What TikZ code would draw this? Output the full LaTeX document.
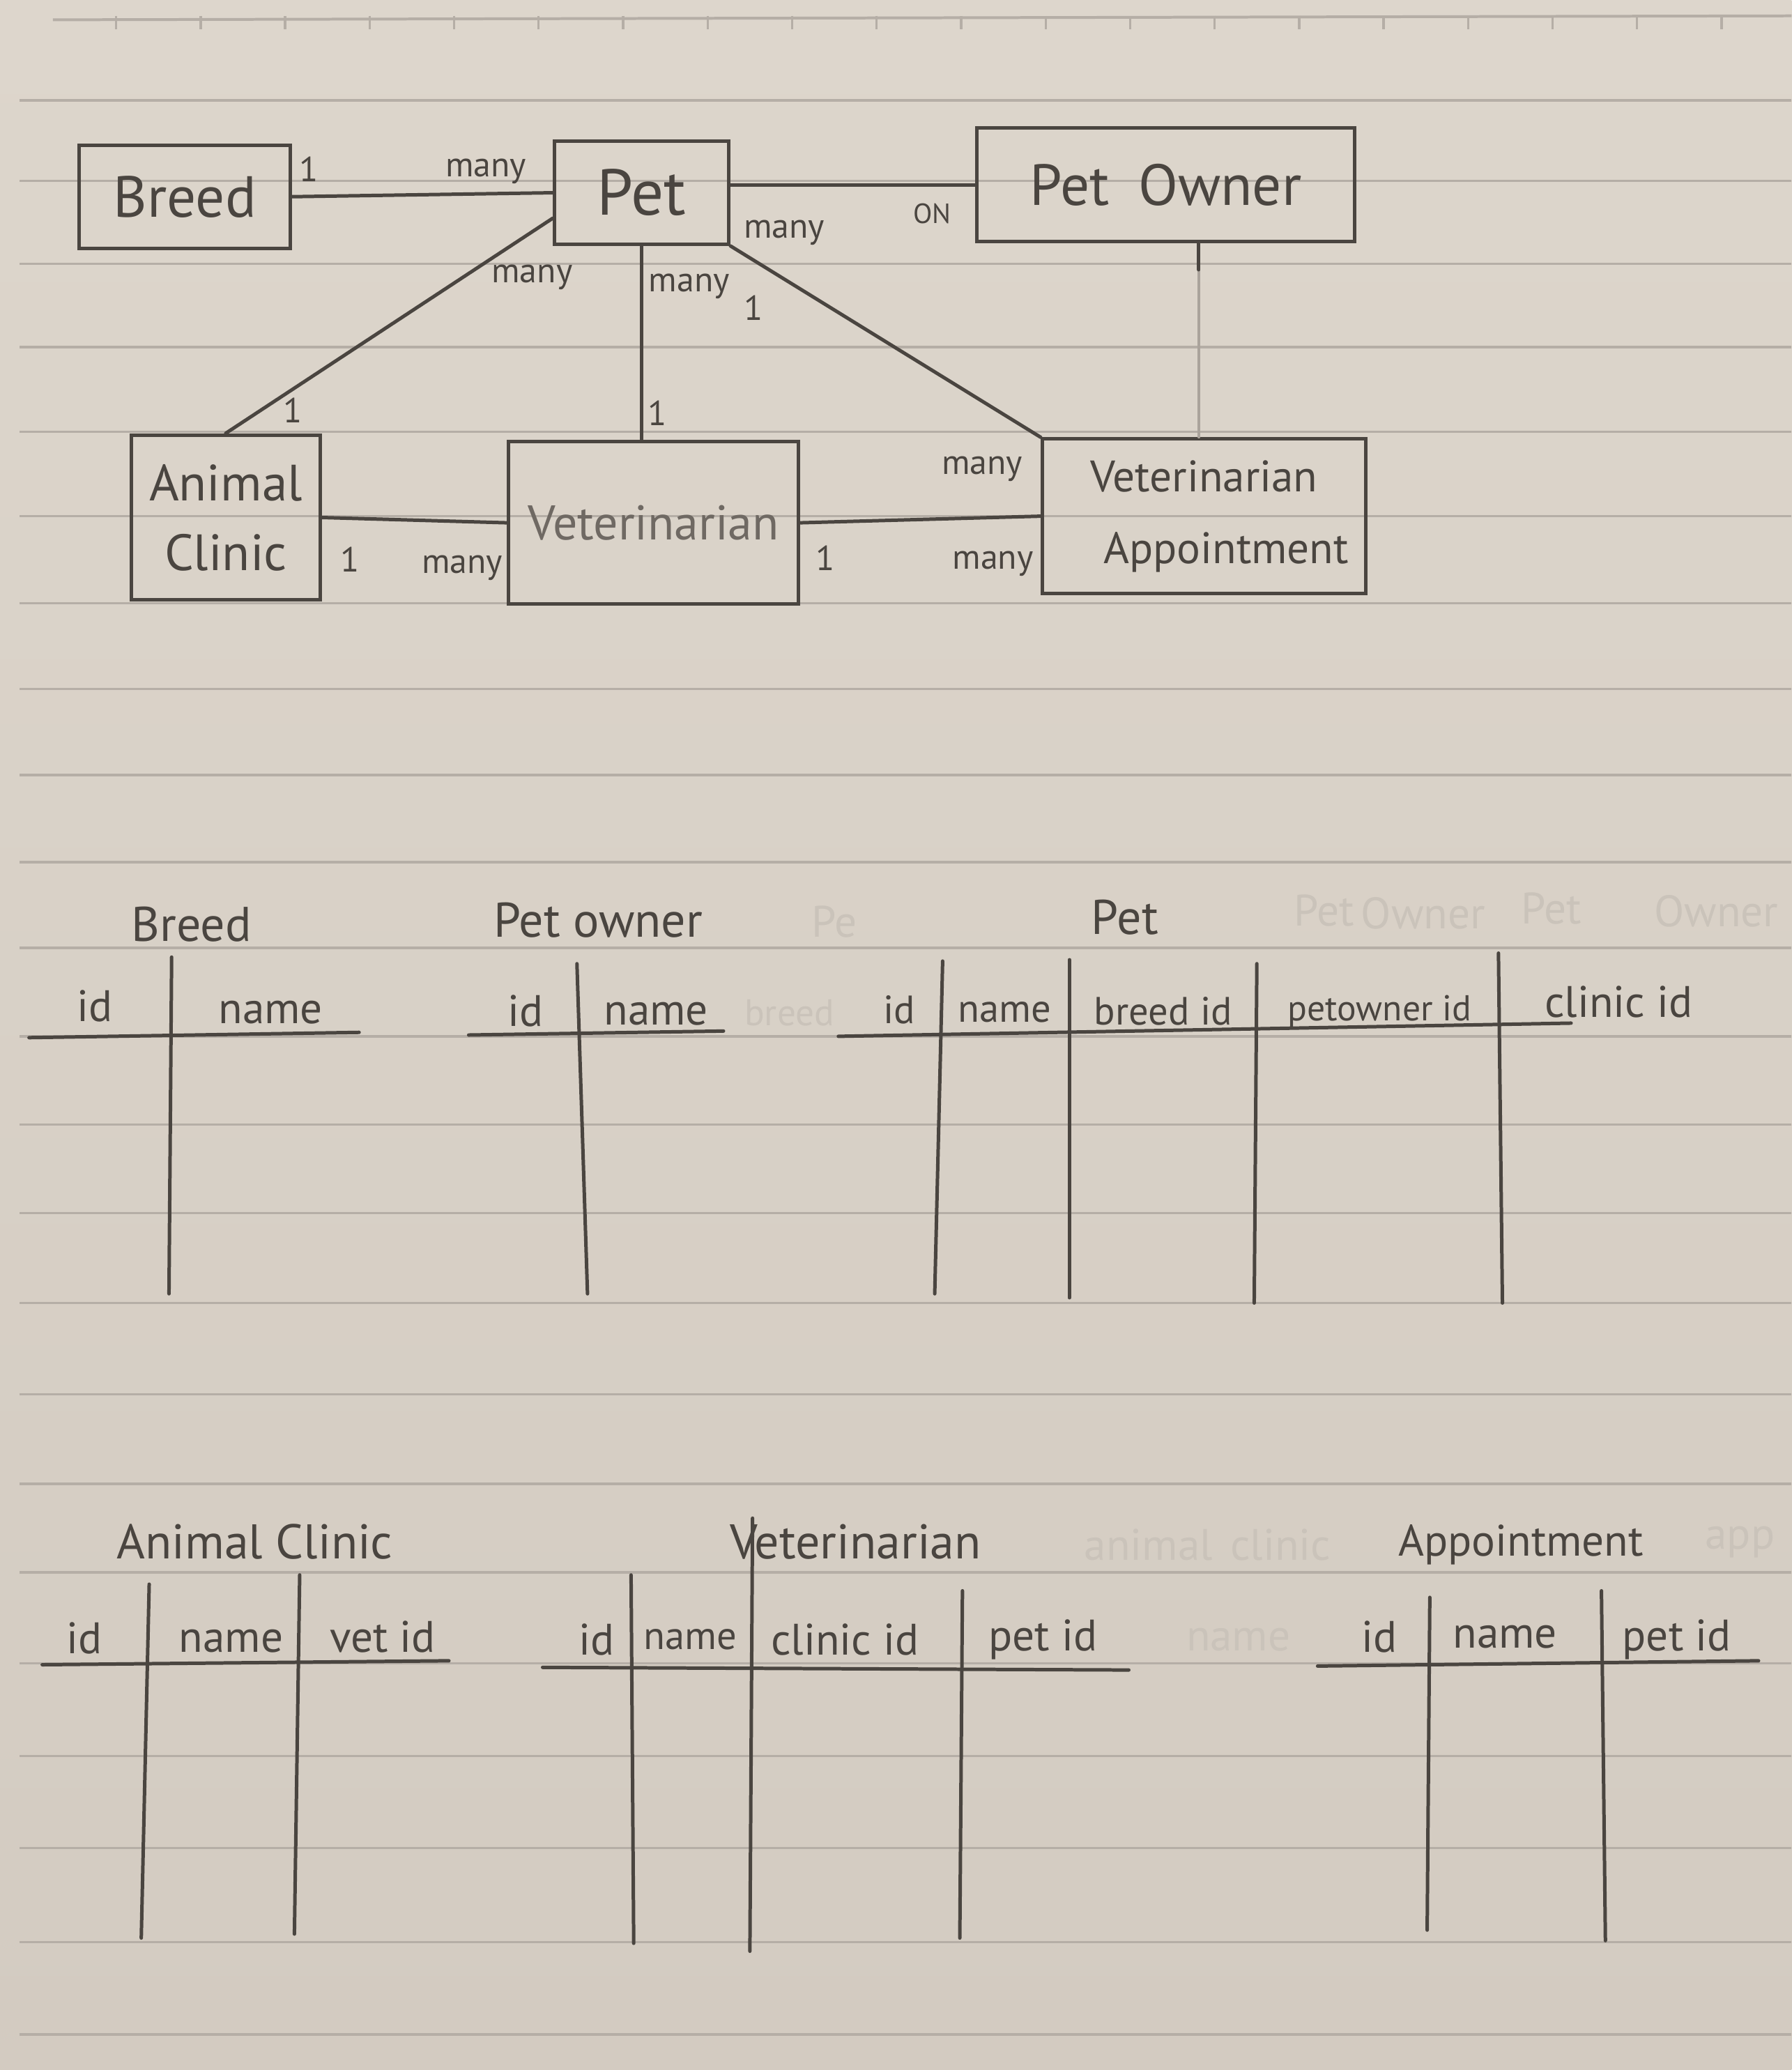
\documentclass[tikz,border=0pt]{standalone}
\usepackage{fontspec}
\setmainfont{PT Sans}
\usetikzlibrary{calc}

\definecolor{paper}{RGB}{221,214,204}
\definecolor{paperlow}{RGB}{211,203,193}
\definecolor{ruled}{RGB}{181,174,166}
\definecolor{pencil}{RGB}{74,69,64}
\definecolor{ghost}{RGB}{202,195,186}

\begin{document}
\begin{tikzpicture}[x=0.02cm,y=-0.02cm,
  pen/.style={draw=pencil,line width=1.5pt,line cap=round},
  faint/.style={draw=pencil!35!paper,line width=1.1pt,line cap=round},
  entity/.style={draw=pencil,line width=1.5pt,inner sep=0pt,text=pencil,align=center,
                 font=\fontsize{25}{30}\selectfont},
  card/.style={text=pencil,inner sep=0pt,font=\fontsize{15}{16}\selectfont},
  title/.style={text=pencil,inner sep=0pt,font=\fontsize{21}{24}\selectfont},
  field/.style={text=pencil,inner sep=0pt,font=\fontsize{19}{22}\selectfont},
  narrowfield/.style={field,font=\fontsize{17}{19}\selectfont},
  shadow/.style={text=ghost,inner sep=0pt,font=\fontsize{19}{22}\selectfont}]

% notebook page
\shade[top color=paper,bottom color=paperlow] (0,0) rectangle (1357,1568);
\useasboundingbox (0,0) rectangle (1357,1568);
\draw[ruled,line width=1.2pt] (40,15) -- (1357,12);
\foreach \x in {88,152,...,1340} \draw[ruled,line width=1pt] (\x,12) -- (\x,22);
\foreach \y in {76,137,200,263,327,391,457,522,587,653,718,785,852,919,987,1056,1124,1191,1260,1330,1400,1471,1541}
  \draw[ruled,line width=1pt] (15,\y) -- (1357,\y);

% ---------------- entity relationship sketch ----------------
\node[entity,minimum width=3.2cm,minimum height=1.56cm] (breed) at (140,149) {Breed};
\node[entity,minimum width=2.64cm,minimum height=1.56cm,font=\fontsize{28}{30}\selectfont] (pet) at (486,146) {Pet};
\node[entity,minimum width=5.72cm,minimum height=1.72cm] (owner) at (883,140) {Pet\enspace Owner};
\node[entity,minimum width=2.86cm,minimum height=2.5cm,font=\fontsize{22}{30}\selectfont] (clinic) at (171,392) {Animal\\Clinic};
\node[entity,minimum width=4.4cm,minimum height=2.46cm,text=pencil!75!paper,font=\fontsize{21}{26}\selectfont] (vet) at (495,396) {Veterinarian};
\node[entity,minimum width=4.9cm,minimum height=2.34cm,font=\fontsize{19}{31}\selectfont] (appt) at (912,391) {Veterinarian\\\hspace{1em}Appointment};

% relationships
\draw[pen] (breed.east) -- (pet.west);
\draw[pen] (pet.east |- owner.west) -- (owner.west);
\draw[pen] (pet.196) -- (clinic.north);
\draw[pen] (pet.south) -- (pet.south |- vet.north);
\draw[pen] (pet.south east) -- (appt.north west);
\draw[pen] (clinic.east) -- (vet.west);
\draw[pen] (vet.east) -- (appt.west);
\coordinate (ownerfoot) at ($(owner.south)+(25,0)$);
\draw[faint] (ownerfoot) -- (ownerfoot |- appt.north);
\draw[pen] (ownerfoot) -- ++(0,20);

% cardinalities
\node[card] (c1) at (234,128) {1};
\node[card] (c2) at (368,130) {many};
\node[card] (c3) at (594,176) {many};
\node[card,font=\fontsize{12}{13}\selectfont] (c4) at (706,162) {ON};
\node[card] (c5) at (403,210) {many};
\node[card] (c6) at (522,217) {many};
\node[card] (c7) at (571,233) {1};
\node[card] (c8) at (222,311) {1};
\node[card] (c9) at (498,313) {1};
\node[card] (c10) at (744,355) {many};
\node[card] (c11) at (265,424) {1};
\node[card] (c12) at (350,430) {many};
\node[card] (c13) at (625,423) {1};
\node[card] (c14) at (752,427) {many};

% ---------------- tables, first row ----------------
% Breed
\node[title] (tbreed) at (145,700) {Breed};
\node[field] (tbreedid) at (72,762) {id};
\node[field] (tbreedname) at (205,767) {name};
\draw[pen] (22,786) -- (272,782);
\draw[pen] (130,725) -- (128,980);

% Pet owner
\node[title] (towner) at (453,697) {Pet owner};
\node[field] (townerid) at (398,766) {id};
\node[field] (townername) at (497,768) {name};
\draw[pen] (355,784) -- (548,781);
\draw[pen] (437,730) -- (445,980);

% Pet
\node[shadow] (g1) at (632,698) {Pe};
\node[shadow,font=\fontsize{16}{18}\selectfont] (g2) at (598,767) {breed};
\node[shadow] (g3) at (1003,690) {Pet};
\node[shadow] (g4) at (1078,692) {Owner};
\node[shadow] (g5) at (1175,688) {Pet};
\node[shadow] (g6) at (1300,690) {Owner};
\node[title] (tpet) at (852,695) {Pet};
\node[narrowfield] (tpetid) at (681,765) {id};
\node[narrowfield] (tpetname) at (761,767) {name};
\node[narrowfield] (tpetbreed) at (881,766) {breed id};
\node[narrowfield,font=\fontsize{15.5}{17}\selectfont] (tpetowner) at (1045,766) {petowner id};
\node[field] (tpetclinic) at (1226,759) {clinic id};
\draw[pen] (635,785) -- (1190,775);
\draw[pen] (714,728) -- (708,980);
\draw[pen] (810,727) -- (810,983);
\draw[pen] (952,730) -- (950,987);
\draw[pen] (1135,722) -- (1138,987);

% ---------------- tables, second row ----------------
% Animal Clinic
\node[title] (tclinic) at (193,1168) {Animal Clinic};
\node[field] (tclinicid) at (64,1241) {id};
\node[field] (tclinicname) at (175,1243) {name};
\node[field] (tclinicvet) at (290,1240) {vet id};
\draw[pen] (32,1261) -- (340,1258);
\draw[pen] (113,1200) -- (107,1468);
\draw[pen] (227,1193) -- (223,1465);

% Veterinarian
\node[shadow] (g7) at (870,1170) {animal};
\node[shadow] (g8) at (970,1170) {clinic};
\node[shadow] (g9) at (938,1242) {name};
\node[shadow] (g10) at (1318,1168) {app};
\node[title] (tvet) at (648,1168) {Veterinarian};
\node[field] (tvetid) at (452,1242) {id};
\node[narrowfield] (tvetname) at (523,1242) {name};
\node[field] (tvetclinic) at (640,1242) {clinic id};
\node[field] (tvetpet) at (790,1242) {pet id};
\draw[pen] (411,1263) -- (855,1265);
\draw[pen] (478,1193) -- (480,1472);
\draw[pen] (570,1150) -- (568,1478);
\draw[pen] (729,1205) -- (727,1468);

% Appointment
\node[title,font=\fontsize{19}{22}\selectfont] (tappt) at (1152,1170) {Appointment};
\node[field] (tapptid) at (1045,1240) {id};
\node[field] (tapptname) at (1140,1240) {name};
\node[field] (tapptpet) at (1270,1242) {pet id};
\draw[pen] (998,1262) -- (1332,1258);
\draw[pen] (1083,1210) -- (1081,1462);
\draw[pen] (1213,1205) -- (1216,1470);
\end{tikzpicture}
\end{document}
